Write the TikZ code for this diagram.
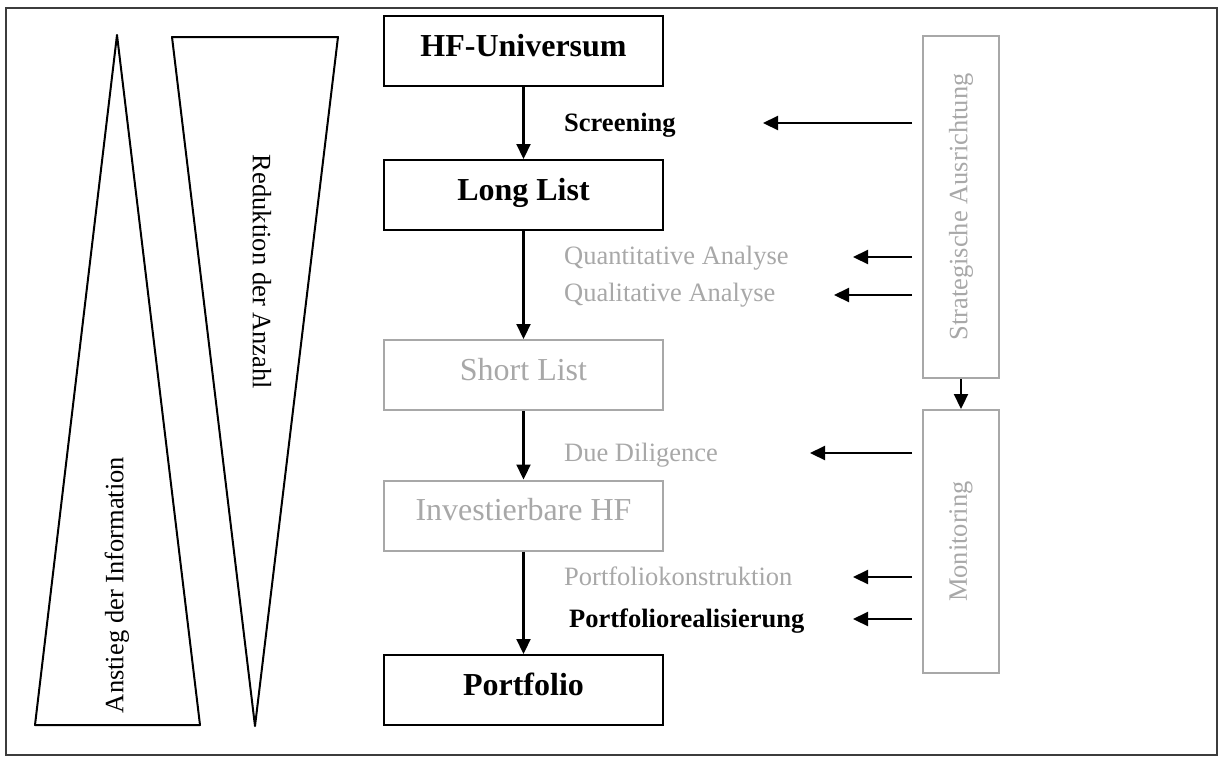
\documentclass[tikz,border=0pt]{standalone}
\usepackage{fontspec}
\setmainfont{Liberation Serif}
\usetikzlibrary{arrows.meta}
\definecolor{fadedgray}{RGB}{168,168,168}
\definecolor{framegray}{RGB}{60,60,60}
\begin{document}
\begin{tikzpicture}[x=1pt,y=-1pt,
  stage/.style={draw, line width=2pt, minimum width=279pt, minimum height=70pt,
    inner sep=0pt, text height=22pt, text depth=12pt,
    font=\fontsize{32}{36}\selectfont},
  boldstage/.style={stage, font=\fontsize{32}{36}\selectfont\bfseries},
  fadedstage/.style={stage, draw=fadedgray, text=fadedgray},
  steplabel/.style={anchor=base west, inner sep=0pt, font=\fontsize{26.5}{30}\selectfont},
  boldlabel/.style={steplabel, font=\fontsize{26.5}{30}\selectfont\bfseries},
  fadedlabel/.style={steplabel, text=fadedgray},
  sidebox/.style={draw=fadedgray, text=fadedgray, line width=2pt, rotate=90,
    minimum height=76pt, inner sep=0pt, font=\fontsize{26.5}{30}\selectfont},
  wedge/.style={line width=2pt, line join=round},
  wedgetext/.style={inner sep=0pt, font=\fontsize{26.5}{30}\selectfont},
  flow/.style={line width=2.2pt, -{Triangle[length=15pt,width=14pt]}},
]
\useasboundingbox (0,0) rectangle (1219,756);
\draw[framegray, line width=1.5pt] (6,8) rectangle (1217,755);

% the two wedges on the left
\draw[wedge] (35,725) -- (117,35) -- (200,725) -- cycle;
\draw[wedge] (172,37) -- (338,37) -- (255,726) -- cycle;
\node[wedgetext, rotate=90] (info) at (117,585) {Anstieg der Information};
\node[wedgetext, rotate=-90] (count) at (262,272) {Reduktion der Anzahl};

% selection stages
\node[boldstage] (universe) at (523.5,51) {HF-Universum};
\node[boldstage] (longlist) at (523.5,195) {Long List};
\node[fadedstage] (shortlist) at (523.5,375) {Short List};
\node[fadedstage] (investable) at (523.5,515.5) {Investierbare HF};
\node[boldstage] (portfolio) at (523.5,690) {Portfolio};

\draw[flow] (universe) -- (longlist);
\draw[flow] (longlist) -- (shortlist);
\draw[flow] (shortlist) -- (investable);
\draw[flow] (investable) -- (portfolio);

% process step labels
\node[boldlabel] (screening) at (564,131) {Screening};
\node[fadedlabel] (quant) at (564,264) {Quantitative Analyse};
\node[fadedlabel] (qual) at (564,301) {Qualitative Analyse};
\node[fadedlabel] (dd) at (564,461) {Due Diligence};
\node[fadedlabel] (construct) at (564,585) {Portfoliokonstruktion};
\node[boldlabel] (realise) at (569,627) {Portfoliorealisierung};

% steering boxes on the right
\node[sidebox, minimum width=342pt] (strategy) at (961,207) {Strategische Ausrichtung};
\node[sidebox, minimum width=263pt] (monitoring) at (961,541.5) {Monitoring};
\draw[flow] (strategy) -- (monitoring);

% feedback arrows towards the process steps
\coordinate (screenTail) at (912,123);   \coordinate (screenTip) at (763,123);
\coordinate (quantTail) at (912,257);    \coordinate (quantTip) at (853,257);
\coordinate (qualTail) at (912,295);     \coordinate (qualTip) at (834,295);
\coordinate (ddTail) at (912,453);       \coordinate (ddTip) at (810,453);
\coordinate (constrTail) at (912,577);   \coordinate (constrTip) at (853,577);
\coordinate (realTail) at (912,619);     \coordinate (realTip) at (853,619);
\draw[flow] (screenTail) -- (screenTip);
\draw[flow] (quantTail) -- (quantTip);
\draw[flow] (qualTail) -- (qualTip);
\draw[flow] (ddTail) -- (ddTip);
\draw[flow] (constrTail) -- (constrTip);
\draw[flow] (realTail) -- (realTip);
\end{tikzpicture}
\end{document}
